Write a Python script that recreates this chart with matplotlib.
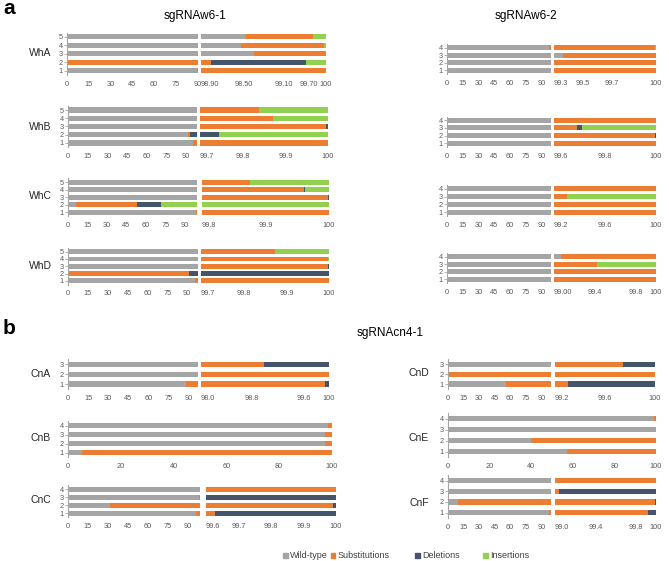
"""Editing profile of sgRNAw6 / sgRNAcn4 targets: stacked bars on broken x axes."""
import matplotlib
matplotlib.use('Agg')
import matplotlib.pyplot as plt
from matplotlib.patches import Rectangle
import numpy as np

plt.rcParams['font.family'] = ['Liberation Sans', 'DejaVu Sans']

W, H = 669, 561

SERIES = ['Wild-type', 'Substitutions', 'Deletions', 'Insertions']
COLORS = ['#A5A5A5', '#ED7D31', '#44546A', '#92D050']

# rows from 1 (bottom) upwards: wild-type, substitutions, deletions, insertions (%)
WHA = [[89.7, 10.3, 0, 0], [0, 98.99, 0.83, 0.18], [99.37, 0.63, 0, 0],
       [99.25, 0.735, 0, 0.015], [99.3, 0.59, 0, 0.11]]
WHB = [[95.1, 4.9, 0, 0], [91.3, 1.8, 6.645, 0.255], [99.69, 0.305, 0.005, 0],
       [99.69, 0.182, 0, 0.128], [99.69, 0.149, 0, 0.161]]
WHC = [[98.8, 1.2, 0, 0], [6.4, 46.6, 18.6, 28.4], [99.8, 0.198, 0.002, 0],
       [99.8, 0.160, 0.002, 0.038], [99.8, 0.075, 0, 0.125]]
WHD = [[96.1, 3.9, 0, 0], [0, 91.2, 8.8, 0], [99.7, 0.297, 0.003, 0],
       [99.7, 0.298, 0, 0.002], [99.7, 0.174, 0, 0.126]]

W62_1 = [[99.3, 0.7, 0, 0], [99.3, 0.7, 0, 0], [99.365, 0.635, 0, 0],
         [97.7, 2.29, 0, 0.01]]
W62_2 = [[99.6, 0.4, 0, 0], [99.6, 0.397, 0.003, 0], [99.6, 0.09, 0.019, 0.291],
         [99.6, 0.4, 0, 0]]
W62_3 = [[99.2, 0.8, 0, 0], [99.1, 0.9, 0, 0], [99.2, 0.1, 0, 0.7],
         [99.2, 0.8, 0, 0]]
W62_4 = [[99.0, 1.0, 0, 0], [98.9, 1.1, 0, 0], [99.0, 0.42, 0, 0.58],
         [99.066, 0.934, 0, 0]]

CNA = [[88.0, 11.94, 0.06, 0], [97.5, 2.5, 0, 0], [97.5, 1.48, 1.02, 0]]
CNB = [[5.2, 94.8, 0, 0], [97.3, 2.7, 0, 0], [97.3, 2.7, 0, 0], [98.6, 1.4, 0, 0]]
CNC = [[96.3, 3.328, 0.372, 0], [32.0, 67.99, 0.01, 0], [98.8, 0.8, 0.4, 0],
       [99.3, 0.7, 0, 0]]
CND = [[56.0, 43.304, 0.696, 0], [0, 100, 0, 0], [99.2, 0.544, 0.256, 0]]
CNE = [[57.0, 43.0, 0, 0], [40.0, 60.0, 0, 0], [100, 0, 0, 0], [98.8, 1.2, 0, 0]]
CNF = [[97.0, 2.92, 0.08, 0], [10.0, 89.99, 0.01, 0], [98.95, 0.09, 0.96, 0],
       [98.9, 1.1, 0, 0]]

LEFT_TICKS = [0, 15, 30, 45, 60, 75, 90]
FULL_TICKS = [0, 20, 40, 60, 80, 100]

WHA_TICKS = ['98.90', '98.50', '99.10', '99.70', '100']
WHA_TICK_POS = [98.9, 99.28, 99.63, 99.85, 100]
WHB_TICKS = ['99.7', '99.8', '99.9', '100']
WHC_TICKS = ['99.8', '99.9', '100']
WHD_TICKS = ['99.7', '99.8', '99.9', '100']
W62_1_TICKS = ['99.3', '99.5', '99.7', '100']
W62_2_TICKS = ['99.6', '99.8', '100']
W62_3_TICKS = ['99.2', '99.6', '100']
W62_4_TICKS = ['99.00', '99.4', '99.8', '100']
CNA_TICKS = ['98.0', '98.8', '99.6', '100']
CNC_TICKS = ['99.6', '99.7', '99.8', '99.9', '100']
CND_TICKS = ['99.2', '99.6', '100']
CNF_TICKS = ['99.0', '99.4', '99.8', '100']

# layout in pixels: (x left start, x left end, x right start, x right end, y top, y bottom)
PANELS = [
    dict(name='WhA', data=WHA, box=(67, 198, 201, 326, 32.5, 75), name_xy=(40, 53),
         left_max=90.5, right=(98.9, WHA_TICK_POS, WHA_TICKS)),
    dict(name='WhB', data=WHB, box=(68, 197, 200, 328, 106, 147), name_xy=(40, 127),
         left_max=98.2, right=(99.7, None, WHB_TICKS)),
    dict(name='WhC', data=WHC, box=(68, 197, 202, 329, 178.5, 216), name_xy=(40, 196),
         left_max=99.5, right=(99.8, None, WHC_TICKS)),
    dict(name='WhD', data=WHD, box=(68, 198, 201, 329, 248, 284.5), name_xy=(40, 266),
         left_max=98.2, right=(99.7, None, WHD_TICKS)),
    dict(name=None, data=W62_1, box=(447, 551, 554, 656, 44, 74), name_xy=None,
         left_max=99.3, right=(99.3, None, W62_1_TICKS)),
    dict(name=None, data=W62_2, box=(447, 551, 554, 656, 116.5, 147), name_xy=None,
         left_max=99.3, right=(99.6, None, W62_2_TICKS)),
    dict(name=None, data=W62_3, box=(447, 551, 554, 656, 185, 216), name_xy=None,
         left_max=99.3, right=(99.2, None, W62_3_TICKS)),
    dict(name=None, data=W62_4, box=(447, 551, 554, 656, 253, 283), name_xy=None,
         left_max=99.3, right=(99.0, None, W62_4_TICKS)),
    dict(name='CnA', data=CNA, box=(68, 198, 201, 329, 359.5, 389), name_xy=(41, 374),
         left_max=97, right=(98.0, None, CNA_TICKS)),
    dict(name='CnB', data=CNB, box=(68, 332, None, None, 421, 457), name_xy=(41, 438),
         left_max=100, right=None),
    dict(name='CnC', data=CNC, box=(68, 200, 206, 336, 485.3, 517.3), name_xy=(41, 500),
         left_max=99.6, right=(99.6, None, CNC_TICKS)),
    dict(name='CnD', data=CND, box=(448, 551, 555, 655, 359.5, 389), name_xy=(419, 373),
         left_max=99.3, right=(99.2, None, CND_TICKS)),
    dict(name='CnE', data=CNE, box=(448, 656, None, None, 413, 457), name_xy=(419, 438),
         left_max=100, right=None),
    dict(name='CnF', data=CNF, box=(448, 551, 555, 656, 475.3, 518), name_xy=(419, 503),
         left_max=99.3, right=(99.0, None, CNF_TICKS)),
]

TICK_COLOR = '#595959'
AXIS_COLOR = '#A6A6A6'
TICK_SIZE = 5.3


def _rect(x0, x1, y0, y1):
    return [x0 / W, 1 - y1 / H, (x1 - x0) / W, (y1 - y0) / H]


def _bars(ax, rows, height):
    rows = np.asarray(rows, dtype=float)
    y = np.arange(1, len(rows) + 1)
    left = np.zeros(len(rows))
    for k, color in enumerate(COLORS):
        ax.barh(y, rows[:, k], left=left, color=color, height=height, linewidth=0)
        left += rows[:, k]
    ax.set_ylim(0.5, len(rows) + 0.5)


def _style(ax, with_y):
    for side in ['top', 'right', 'bottom']:
        ax.spines[side].set_visible(False)
    ax.tick_params(axis='x', length=0, pad=4, labelsize=TICK_SIZE, labelcolor=TICK_COLOR)
    if with_y:
        ax.spines['left'].set_color(AXIS_COLOR)
        ax.spines['left'].set_linewidth(0.8)
        n = int(round(ax.get_ylim()[1] - 0.5))
        ax.set_yticks(range(1, n + 1))
        ax.tick_params(axis='y', length=2, width=0.6, color=AXIS_COLOR, pad=1,
                       labelsize=TICK_SIZE, labelcolor=TICK_COLOR)
    else:
        ax.spines['left'].set_visible(False)
        ax.set_yticks([])


def draw_panel(fig, p):
    x0, x1, x2, x3, y0, y1 = p['box']
    n = len(p['data'])
    spacing = (y1 - y0) / n
    height = min(0.66, 5.4 / spacing)

    ax = fig.add_axes(_rect(x0, x1, y0, y1))
    _bars(ax, p['data'], height)
    ax.set_xlim(0, p['left_max'])
    ax.set_xticks(LEFT_TICKS if p['right'] else FULL_TICKS)
    _style(ax, True)

    if p['right']:
        r_min, r_pos, r_labels = p['right']
        axr = fig.add_axes(_rect(x2, x3, y0, y1))
        _bars(axr, p['data'], height)
        axr.set_xlim(r_min, 100)
        pos = r_pos if r_pos else [float(s) for s in r_labels]
        axr.set_xticks(pos)
        axr.set_xticklabels(r_labels)
        _style(axr, False)
        # first label of the zoomed part starts at the break
        axr.get_xticklabels()[0].set_horizontalalignment('left')

    if p['name']:
        fig.text(p['name_xy'][0] / W, 1 - p['name_xy'][1] / H, p['name'],
                 ha='center', va='center', fontsize=7.5, color='#262626')


def main():
    fig = plt.figure(figsize=(W / 100, H / 100), dpi=100)

    fig.text(3 / W, 1 - 9 / H, 'a', fontsize=15, fontweight='bold', va='center')
    fig.text(3 / W, 1 - 329 / H, 'b', fontsize=15, fontweight='bold', va='center')
    fig.text(195 / W, 1 - 16.5 / H, 'sgRNAw6-1', fontsize=8.5, ha='center', va='center')
    fig.text(526 / W, 1 - 16.5 / H, 'sgRNAw6-2', fontsize=8.5, ha='center', va='center')
    fig.text(390 / W, 1 - 333 / H, 'sgRNAcn4-1', fontsize=8.5, ha='center', va='center')

    for p in PANELS:
        draw_panel(fig, p)

    # legend along the bottom
    legend_x = [285, 333, 417, 485]
    for label, color, x in zip(SERIES, COLORS, legend_x):
        fig.patches.append(Rectangle(((x - 2.5) / W, 1 - 557.5 / H), 5 / W, 5 / H,
                                     transform=fig.transFigure, color=color))
        fig.text((x + 5) / W, 1 - 555 / H, label, fontsize=6.5, va='center',
                 color='#404040')

    fig.savefig('out.png', dpi=100)
    plt.close(fig)


if __name__ == '__main__':
    main()
